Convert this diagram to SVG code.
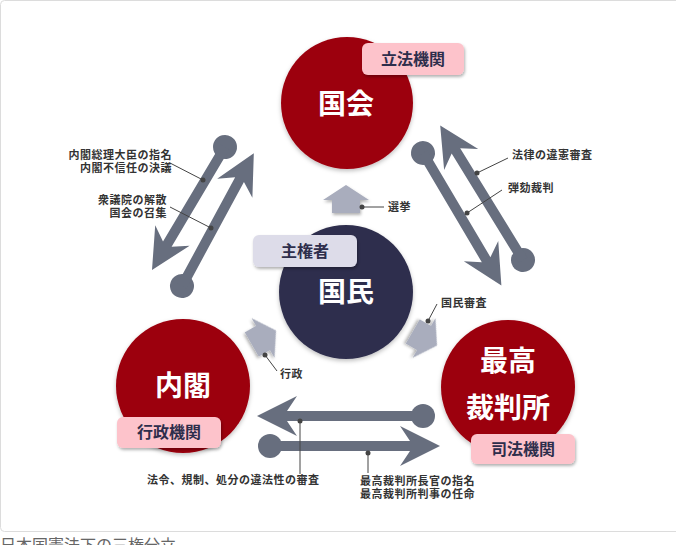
<svg xmlns="http://www.w3.org/2000/svg" width="676" height="545" viewBox="0 0 676 545">
<defs>
<filter id="sh" x="-20%" y="-20%" width="140%" height="150%"><feDropShadow dx="1" dy="2" stdDeviation="1.5" flood-color="#000" flood-opacity="0.3"/></filter>
<filter id="csh" x="-20%" y="-20%" width="140%" height="140%"><feDropShadow dx="0" dy="2" stdDeviation="2" flood-color="#000" flood-opacity="0.25"/></filter>
</defs>
<style>
.red{fill:#9c0011}
.navy{fill:#2f2f4d}
.big{font-family:"Noto Sans CJK JP",sans-serif;font-weight:700;font-size:28px;fill:#fff;text-anchor:middle}
.lbl{font-family:"Noto Sans CJK JP",sans-serif;font-weight:700;font-size:16px;fill:#2e2e4c;text-anchor:middle}
.pink{fill:#fdc3cb}
.lav{fill:#dddce9}
.sm{font-family:"Noto Sans CJK JP",sans-serif;font-weight:700;font-size:11px;letter-spacing:0.5px;fill:#333}
.arr{fill:#676e7e}
.harr{fill:#a9adbd}
.ld{stroke:#444;stroke-width:1;fill:none}
.dot{fill:#444}
.cap{font-family:"Noto Sans CJK JP",sans-serif;font-size:16px;fill:#666}
</style>
<rect x="0.5" y="0.5" width="690" height="531" rx="4" fill="#fff" stroke="#dcdcdc"/>
<g id="connectors">
<g transform="translate(225,147) rotate(120.7)"><circle cx="0" cy="0" r="12" class="arr"/><polygon class="arr" points="0,-5 113,-5 103,-20 143,0 103,20 113,5 0,5"/></g>
<g transform="translate(182,286) rotate(-61.6)"><circle cx="0" cy="0" r="12" class="arr"/><polygon class="arr" points="0,-5 121,-5 111,-20 151,0 111,20 121,5 0,5"/></g>
<g transform="translate(423,153) rotate(59.4)"><circle cx="0" cy="0" r="12" class="arr"/><polygon class="arr" points="0,-5 124,-5 114,-20 154,0 114,20 124,5 0,5"/></g>
<g transform="translate(523,260) rotate(-121.6)"><circle cx="0" cy="0" r="12" class="arr"/><polygon class="arr" points="0,-5 128,-5 118,-20 158,0 118,20 128,5 0,5"/></g>
<g transform="translate(423,416) rotate(180)"><circle cx="0" cy="0" r="12" class="arr"/><polygon class="arr" points="0,-5 136,-5 126,-20 166,0 126,20 136,5 0,5"/></g>
<g transform="translate(270,446)"><circle cx="0" cy="0" r="12" class="arr"/><polygon class="arr" points="0,-5 140,-5 130,-20 170,0 130,20 140,5 0,5"/></g>
<polygon class="harr" filter="url(#sh)" transform="translate(346,200)" points="0,-15 23,0 14,0 14,13 -14,13 -14,0 -23,0"/>
<polygon class="harr" filter="url(#sh)" transform="translate(263,338) rotate(60)" points="0,-15 23,0 14,0 14,13 -14,13 -14,0 -23,0"/>
<polygon class="harr" filter="url(#sh)" transform="translate(424,338) rotate(120)" points="0,-15 23,0 14,0 14,13 -14,13 -14,0 -23,0"/>
<line class="ld" x1="362" y1="207" x2="384" y2="207"/><circle class="dot" cx="362" cy="207" r="2.5"/>
<line class="ld" x1="477" y1="173" x2="508" y2="158"/><circle class="dot" cx="477" cy="173" r="2.5"/>
<line class="ld" x1="467" y1="213" x2="502" y2="190"/><circle class="dot" cx="467" cy="213" r="2.5"/>
<line class="ld" x1="170" y1="163" x2="203" y2="180"/><circle class="dot" cx="203" cy="180" r="2.5"/>
<line class="ld" x1="170" y1="207" x2="211" y2="228"/><circle class="dot" cx="211" cy="228" r="2.5"/>
<line class="ld" x1="265" y1="355" x2="277" y2="371"/><circle class="dot" cx="265" cy="355" r="2.5"/>
<line class="ld" x1="437" y1="304" x2="428" y2="321"/><circle class="dot" cx="428" cy="321" r="2.5"/>
<line class="ld" x1="300" y1="421" x2="300" y2="474"/><circle class="dot" cx="300" cy="421" r="2.5"/>
<line class="ld" x1="368" y1="453" x2="368" y2="473"/><circle class="dot" cx="368" cy="453" r="2.5"/>
</g>
<g id="kokkai">
<circle class="red" cx="347" cy="103" r="66" filter="url(#csh)"/>
<text class="big" x="346" y="114">国会</text>
<rect class="pink" x="362" y="43" width="102" height="32" rx="6" filter="url(#sh)"/>
<text class="lbl" x="413" y="65">立法機関</text>
</g>
<g id="kokumin">
<circle class="navy" cx="346" cy="292" r="67" filter="url(#csh)"/>
<text class="big" x="346" y="302">国民</text>
<rect class="lav" x="253" y="235" width="104" height="32" rx="6" filter="url(#sh)"/>
<text class="lbl" x="305" y="257">主権者</text>
</g>
<g id="naikaku">
<circle class="red" cx="183" cy="386" r="67" filter="url(#csh)"/>
<text class="big" x="183" y="396">内閣</text>
<rect class="pink" x="117" y="417" width="104" height="31" rx="6" filter="url(#sh)"/>
<text class="lbl" x="169" y="438">行政機関</text>
</g>
<g id="saikousai">
<circle class="red" cx="508" cy="387" r="67" filter="url(#csh)"/>
<text class="big" x="508" y="371">最高</text>
<text class="big" x="508" y="418">裁判所</text>
<rect class="pink" x="471" y="434" width="104" height="30" rx="6" filter="url(#sh)"/>
<text class="lbl" x="523" y="455">司法機関</text>
</g>
<g id="labels">
<text class="sm" x="388" y="211">選挙</text>
<text class="sm" x="512" y="159">法律の違憲審査</text>
<text class="sm" x="508" y="192">弾劾裁判</text>
<text class="sm" text-anchor="end"><tspan x="172" y="159">内閣総理大臣の指名</tspan><tspan x="172" y="172">内閣不信任の決議</tspan></text>
<text class="sm" text-anchor="end"><tspan x="167" y="204">衆議院の解散</tspan><tspan x="167" y="217">国会の召集</tspan></text>
<text class="sm" x="280" y="378">行政</text>
<text class="sm" x="441" y="307">国民審査</text>
<text class="sm" x="147" y="484">法令、規制、処分の違法性の審査</text>
<text class="sm"><tspan x="360" y="485">最高裁判所長官の指名</tspan><tspan x="360" y="498">最高裁判所判事の任命</tspan></text>
</g>
<text class="cap" x="0" y="551">日本国憲法下の三権分立</text>
</svg>
